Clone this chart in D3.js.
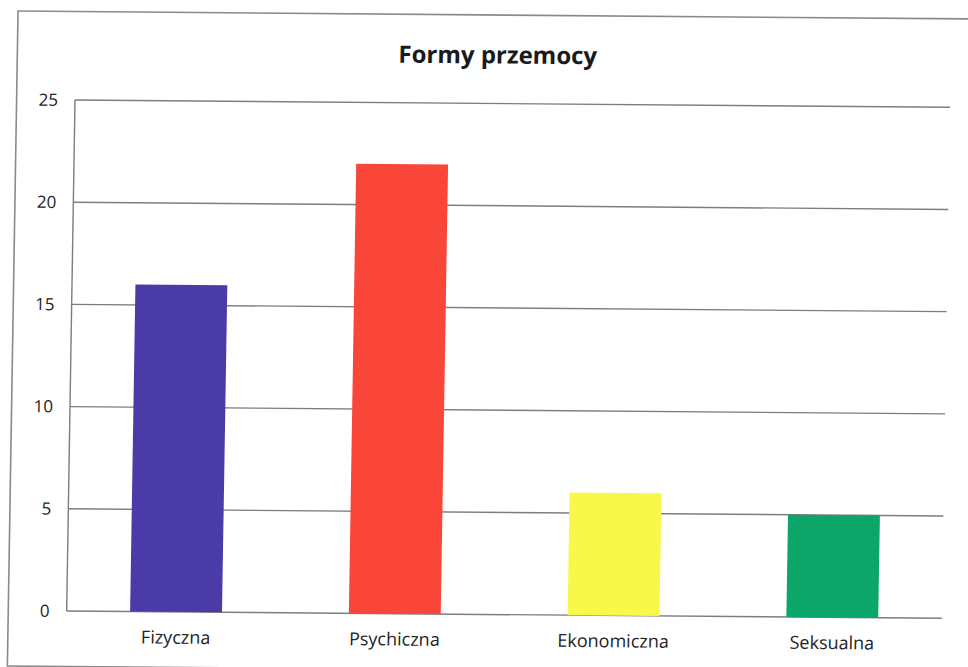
<!DOCTYPE html>
<html><head><meta charset="utf-8">
<script src="https://cdn.jsdelivr.net/npm/d3@7"></script>
<style>html,body{margin:0;padding:0;background:#fff;overflow:hidden}</style>
</head><body>
<script>
const title = "Formy przemocy";
const categories = ["Fizyczna", "Psychiczna", "Ekonomiczna", "Seksualna"];
const values = [16, 22, 6, 5];
const colors = ["#4a3ba9", "#fa4539", "#f8f84a", "#0ca66b"];
const yTicks = [0, 5, 10, 15, 20, 25];

const W = 968, H = 667;
const plotW = 875, plotH = 511;
const FONT = "'Open Sans', Lato, sans-serif";
const svg = d3.select("body").append("svg").attr("width", W).attr("height", H);

// scanned page is slightly skewed
const g = svg.append("g").attr("transform", "translate(75,100) matrix(1,0.0083,-0.0163,1,0,0)");

// page frame
g.append("rect").attr("x", -58.4).attr("y", -88.5).attr("width", 1000).attr("height", 655)
  .attr("fill", "none").attr("stroke", "#8a8a8a").attr("stroke-width", 1.6);

const x = d3.scaleBand().domain(categories).range([0, plotW]).paddingInner(0.58).paddingOuter(0.29);
const y = d3.scaleLinear().domain([0, 25]).range([plotH, 0]);

// gridlines
g.append("g").selectAll("line").data(yTicks).join("line")
  .attr("x1", 0).attr("x2", plotW).attr("y1", d => y(d)).attr("y2", d => y(d))
  .attr("stroke", "#7d7d7d").attr("stroke-width", 1.4);
// vertical axis line
g.append("line").attr("x1", 0).attr("x2", 0).attr("y1", 0).attr("y2", plotH)
  .attr("stroke", "#7d7d7d").attr("stroke-width", 1.4);

// y axis labels
const yAxis = d3.axisLeft(y).tickValues(yTicks).tickSize(0).tickPadding(17);
g.append("g").call(yAxis).call(a => a.select(".domain").remove())
  .selectAll("text").attr("font-family", FONT)
  .attr("font-size", 17).attr("fill", "#222");

// bars
g.append("g").selectAll("rect").data(values).join("rect")
  .attr("x", (d, i) => x(categories[i])).attr("width", x.bandwidth())
  .attr("y", d => y(d)).attr("height", d => y(0) - y(d))
  .attr("fill", (d, i) => colors[i]);

// x axis labels
const xAxis = d3.axisBottom(x).tickSize(0).tickPadding(19);
g.append("g").attr("transform", `translate(0,${plotH})`).call(xAxis)
  .call(a => a.select(".domain").remove())
  .selectAll("text").attr("font-family", FONT)
  .attr("font-size", 18).attr("fill", "#222");

// title
g.append("text").attr("x", 422).attr("y", -40).attr("text-anchor", "middle")
  .attr("font-family", FONT).attr("font-weight", "bold")
  .attr("font-size", 24).attr("fill", "#1a1a1a").text(title);
</script>
</body></html>
